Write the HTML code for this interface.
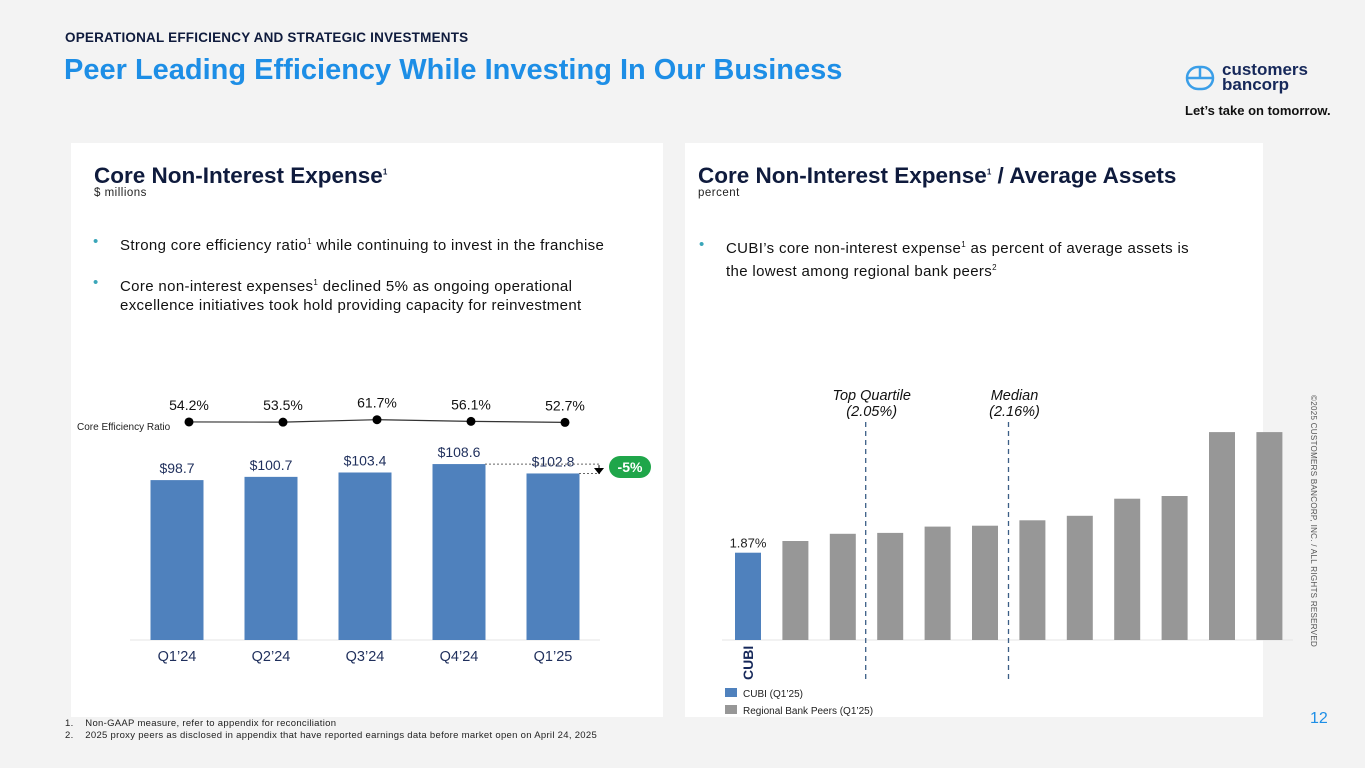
<!DOCTYPE html>
<html><head><meta charset="utf-8"><style>
*{margin:0;padding:0;box-sizing:border-box}
body{width:1365px;height:768px;background:#f3f3f3;font-family:"Liberation Sans",sans-serif;position:relative;overflow:hidden;color:#0f1b3d}
.abs{position:absolute;white-space:nowrap}
.panel{position:absolute;background:#fff}
h2{font-size:22.5px;font-weight:bold;color:#0f1b3d}
.sub{font-size:11.5px;color:#222;letter-spacing:0.5px}
.bul{font-size:15px;color:#111;line-height:19px;letter-spacing:0.35px}
.bul .dot{position:absolute;left:-27px;color:#3aa6b9}
sup{font-size:8px}
svg{position:absolute;left:0;top:0}
</style></head><body>
<div class="abs" style="left:65px;top:30px;font-size:13.5px;font-weight:bold;color:#0f1b3d;letter-spacing:0.2px">OPERATIONAL EFFICIENCY AND STRATEGIC INVESTMENTS</div>
<div class="abs" style="left:64px;top:54px;font-size:29px;font-weight:bold;color:#1d8ee6">Peer Leading Efficiency While Investing In Our Business</div>
<div class="abs" style="left:1185px;top:63px;">
<svg width="30" height="30" viewBox="0 0 30 30" style="position:static"><rect x="2" y="4" width="26" height="22" rx="11" fill="none" stroke="#3a9ee8" stroke-width="2.5"/><line x1="2" y1="15" x2="28" y2="15" stroke="#3a9ee8" stroke-width="2.5"/><line x1="15" y1="4" x2="15" y2="15" stroke="#3a9ee8" stroke-width="2.5"/></svg></div>
<div class="abs" style="left:1222px;top:62px;font-size:17px;font-weight:bold;line-height:15px;color:#16285a">customers<br>bancorp</div>
<div class="abs" style="left:1185px;top:103px;font-size:13px;font-weight:bold;color:#111">Let’s take on tomorrow.</div>
<div class="abs" style="left:1318px;top:395px;transform:rotate(90deg);transform-origin:0 0;font-size:8px;letter-spacing:0.3px;color:#555;">©2025 CUSTOMERS BANCORP, INC. / ALL RIGHTS RESERVED</div>
<div class="abs" style="left:1310px;top:710px;font-size:16px;color:#1d8ee6">12</div>

<div class="panel" style="left:71px;top:143px;width:592px;height:574px"></div>
<div class="panel" style="left:685px;top:143px;width:578px;height:574px"></div>

<div class="abs" style="left:94px;top:163px"><h2>Core Non-Interest Expense<sup>1</sup></h2></div>
<div class="abs sub" style="left:94px;top:187px">$ millions</div>
<div class="abs bul" style="left:120px;top:232px"><span class="dot">•</span>Strong core efficiency ratio<sup>1</sup> while continuing to invest in the franchise</div>
<div class="abs bul" style="left:120px;top:273px"><span class="dot">•</span>Core non-interest expenses<sup>1</sup> declined 5% as ongoing operational<br>excellence initiatives took hold providing capacity for reinvestment</div>

<div class="abs" style="left:698px;top:163px"><h2>Core Non-Interest Expense<sup>1</sup> / Average Assets</h2></div>
<div class="abs sub" style="left:698px;top:187px">percent</div>
<div class="abs bul" style="left:726px;top:235px"><span class="dot">•</span>CUBI’s core non-interest expense<sup>1</sup> as percent of average assets is<br>the lowest among regional bank peers<sup>2</sup></div>

<div class="abs" style="left:65px;top:718px;font-size:9.5px;line-height:12px;color:#222;letter-spacing:0.3px">1.&nbsp;&nbsp;&nbsp;&nbsp;Non-GAAP measure, refer to appendix for reconciliation<br>2.&nbsp;&nbsp;&nbsp;&nbsp;2025 proxy peers as disclosed in appendix that have reported earnings data before market open on April 24, 2025</div>

<svg id="chart" width="1365" height="768"></svg>
<script>
const quarters=["Q1’24","Q2’24","Q3’24","Q4’24","Q1’25"];
const expense=[98.7,100.7,103.4,108.6,102.8];
const expenseLabels=["$98.7","$100.7","$103.4","$108.6","$102.8"];
const ratio=[54.2,53.5,61.7,56.1,52.7];
const ratioLabels=["54.2%","53.5%","61.7%","56.1%","52.7%"];
const peerValues=[1.87,2.00,2.08,2.09,2.16,2.17,2.23,2.28,2.47,2.50,3.21,3.21];
const svg=document.getElementById('chart');
const NS='http://www.w3.org/2000/svg';
function mk(t,a,txt){const e=document.createElementNS(NS,t);for(const k in a)e.setAttribute(k,a[k]);if(txt!==undefined)e.textContent=txt;svg.appendChild(e);return e;}
const lBase=640;
const lx=i=>177+i*94;
const ly=v=>lBase-v*1.62;
const ry=v=>422-(v-54)*0.3;
let e=mk('line',{x1:130,x2:600,y1:lBase,y2:lBase,stroke:'#e6e6e6','stroke-width':1});


expense.forEach((v,i)=>{
 let b=mk('rect',{x:lx(i)-26.5,y:ly(v),width:53,height:lBase-ly(v),fill:'#4f81bd'});
 
 
 let t=mk('text',{x:lx(i),y:ly(v)-7,'text-anchor':'middle','font-size':14,fill:'#1f2f5c'},expenseLabels[i]);
 
 
 let q=mk('text',{x:lx(i),y:lBase+21,'text-anchor':'middle','font-size':14.5,fill:'#1f2f5c'},quarters[i]);
 
 
});
let pts=ratio.map((v,i)=>(lx(i)+12)+','+ry(v)).join(' ');
e=mk('polyline',{points:pts,fill:'none',stroke:'#333','stroke-width':1.2});


ratio.forEach((v,i)=>{
 let c=mk('circle',{cx:lx(i)+12,cy:ry(v),r:4.5,fill:'#000'});
 
 
 let t=mk('text',{x:lx(i)+12,y:ry(v)-12,'text-anchor':'middle','font-size':14,fill:'#111'},ratioLabels[i]);
 
 
});
e=mk('text',{x:77,y:430,'font-size':10,fill:'#222'},'Core Efficiency Ratio');


const yA=ly(expense[3]),yB=ly(expense[4]);
e=mk('line',{x1:lx(3)+26,x2:600,y1:yA,y2:yA,stroke:'#666','stroke-dasharray':'2,2'});


e=mk('line',{x1:lx(4)+26,x2:600,y1:yB,y2:yB,stroke:'#666','stroke-dasharray':'2,2'});


e=mk('path',{d:`M599,${yA+1}V${yB-4}M595,${yB-5}L599,${yB}L603,${yB-5}Z`,stroke:'#000',fill:'#000'});


e=mk('rect',{x:609,y:456,width:42,height:22,rx:11,fill:'#1fa64a'});


e=mk('text',{x:630,y:472,'text-anchor':'middle','font-size':14,'font-weight':'bold',fill:'#fff'},'-5%');


const rBase=640;
const px=i=>748+i*47.4;
const py=v=>rBase-(v-0.9)*90;
e=mk('line',{x1:722,x2:1293,y1:rBase,y2:rBase,stroke:'#e6e6e6'});


peerValues.forEach((v,i)=>{
 let b=mk('rect',{x:px(i)-13,y:py(v),width:26,height:rBase-py(v),fill:i===0?'#4f81bd':'#979797'});
 
 
});
e=mk('text',{x:px(0),y:py(peerValues[0])-5,'text-anchor':'middle','font-size':13,fill:'#222'},'1.87%');


e=mk('text',{x:0,y:0,'font-size':14,'font-weight':'bold',fill:'#16285a',transform:`translate(${px(0)+5},${rBase+40}) rotate(-90)`},'CUBI');


[[865.7,'Top Quartile','(2.05%)','top-quartile'],[1008.5,'Median','(2.16%)','median']].forEach(r=>{
 let l=mk('line',{x1:r[0],x2:r[0],y1:422,y2:683,stroke:'#3b5e86','stroke-width':1.3,'stroke-dasharray':'5,4'});
 
 
 let t=mk('text',{x:r[0]+6,y:400,'text-anchor':'middle','font-size':14.5,'font-style':'italic',fill:'#111'},r[1]);
 
 
 let t2=mk('text',{x:r[0]+6,y:416,'text-anchor':'middle','font-size':14.5,'font-style':'italic',fill:'#111'},r[2]);
 
 
});
[['#4f81bd','CUBI (Q1’25)',688,'legend-cubi'],['#979797','Regional Bank Peers (Q1’25)',705,'legend-peers']].forEach(g=>{
 let r=mk('rect',{x:725,y:g[2],width:12,height:9,fill:g[0]});
 
 
 let t=mk('text',{x:743,y:g[2]+9,'font-size':10,fill:'#222'},g[1]);
 
 
});
</script>
</body></html>
